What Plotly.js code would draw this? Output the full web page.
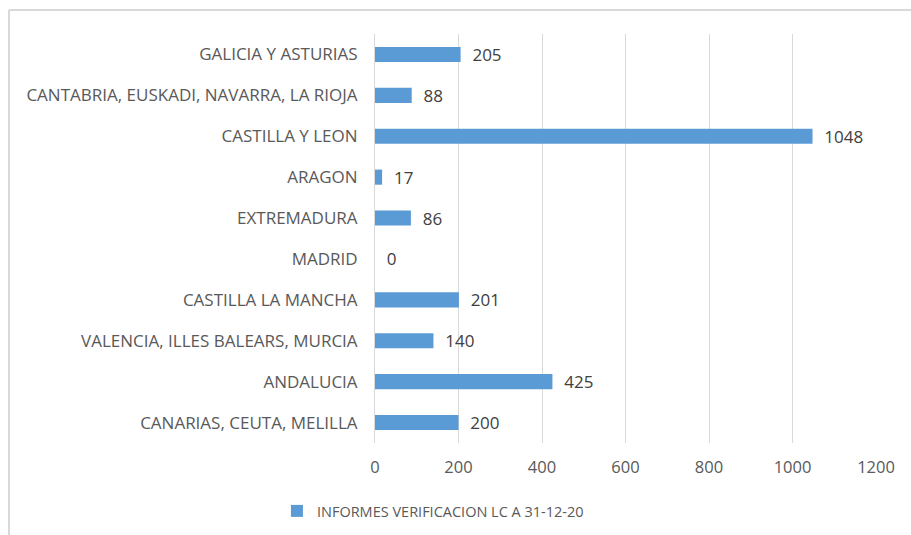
<!DOCTYPE html>
<html><head><meta charset="utf-8">
<script src="https://cdn.plot.ly/plotly-3.0.1.min.js"></script>
<style>html,body{margin:0;padding:0;background:#fff;}#chart{width:911px;height:535px;}</style>
</head><body><div id="chart"></div>
<script>
const categories = [
  "GALICIA Y ASTURIAS",
  "CANTABRIA, EUSKADI, NAVARRA, LA RIOJA",
  "CASTILLA Y LEON",
  "ARAGON",
  "EXTREMADURA",
  "MADRID",
  "CASTILLA LA MANCHA",
  "VALENCIA, ILLES BALEARS, MURCIA",
  "ANDALUCIA",
  "CANARIAS, CEUTA, MELILLA"
];
const values = [205, 88, 1048, 17, 86, 0, 201, 140, 425, 200];
const seriesName = "INFORMES VERIFICACION LC A 31-12-20";
const tickVals = [0, 200, 400, 600, 800, 1000, 1200];

const font = "'Open Sans', sans-serif";
const trace = {
  type: 'bar', orientation: 'h',
  y: categories, x: values, name: seriesName,
  marker: {color: '#5b9bd5'},
  width: 0.37,
  text: values.map(v => '  ' + v), textposition: 'outside', cliponaxis: false,
  constraintext: 'none',
  textfont: {family: font, size: 17, color: '#404040'},
  hoverinfo: 'x+y'
};
const layout = {
  width: 911, height: 535,
  margin: {l: 375, r: 35, t: 34, b: 92},
  paper_bgcolor: '#fff', plot_bgcolor: '#fff',
  font: {family: font, color: '#595959'},
  showlegend: true,
  legend: {orientation: 'h', xref: 'container', yref: 'container', x: 0.304, y: 0.015, xanchor: 'left', yanchor: 'bottom', font: {size: 14.5, color: '#595959', family: font}, itemwidth: 30},
  xaxis: {range: [0, 1200], tickvals: tickVals, ticktext: tickVals.map(String), showgrid: true, gridcolor: '#d9d9d9', gridwidth: 1, zeroline: false, showline: false, ticks: '', tickfont: {size: 16.5, color: '#595959'}, ticklabelstandoff: 12, fixedrange: true},
  yaxis: {autorange: 'reversed', categoryorder: 'array', categoryarray: categories, showline: true, linecolor: '#d9d9d9', linewidth: 1, ticks: '', tickfont: {size: 17, color: '#595959'}, ticklabelstandoff: 13, showgrid: false, fixedrange: true},
  bargap: 0.63,
  shapes: [
    {type: 'line', xref: 'paper', yref: 'paper', x0: -366/501, x1: 536/501, y0: 433/409, y1: 433/409, line: {color: '#d9d9d9', width: 2}},
    {type: 'line', xref: 'paper', yref: 'paper', x0: -366/501, x1: -366/501, y0: 433/409, y1: -0.25, line: {color: '#d9d9d9', width: 2}}
  ]
};
Plotly.newPlot('chart', [trace], layout, {displayModeBar: false, staticPlot: true});
</script></body></html>
